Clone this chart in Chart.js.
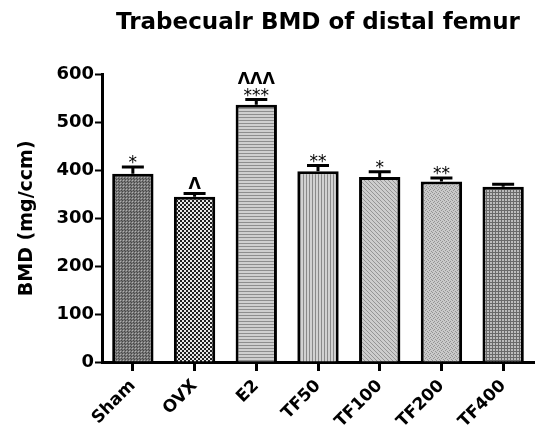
<!DOCTYPE html>
<html>
<head>
<meta charset="utf-8">
<script src="https://cdn.jsdelivr.net/npm/chart.js@4.4.1/dist/chart.umd.min.js"></script>
<style>
  html, body { margin: 0; padding: 0; background: #fff; }
  #wrap { width: 542px; height: 438px; }
</style>
</head>
<body>
<div id="wrap"><canvas id="bmdChart" width="542" height="438"></canvas></div>
<script>
// groups on the x axis
const groups = ['Sham', 'OVX', 'E2', 'TF50', 'TF100', 'TF200', 'TF400'];
// mean trabecular BMD (mg/ccm)
const bmdMean = [393, 345, 537, 398, 386, 377, 366];
// upper error (SEM)
const bmdErr = [14, 7, 11, 12, 11, 7, 5];
// significance marks above each bar
const starMarks = ['*', '', '***', '**', '*', '**', ''];
const caretMarks = ['', 'Λ', 'ΛΛΛ', '', '', '', ''];
// y axis ticks
const yTicks = [0, 100, 200, 300, 400, 500, 600];

const FONT = "'DejaVu Sans', sans-serif";

// small tiled patterns that imitate the hatch fills
function makePattern(size, draw) {
    const c = document.createElement('canvas');
    c.width = size; c.height = size;
    const g = c.getContext('2d');
    draw(g);
    return document.getElementById('bmdChart').getContext('2d').createPattern(c, 'repeat');
}

function px(g, color, list) {
    g.fillStyle = color;
    list.forEach(p => g.fillRect(p[0], p[1], 1, 1));
}

const fills = [
    // Sham: dark stipple
    makePattern(3, g => {
        g.fillStyle = '#777777'; g.fillRect(0, 0, 3, 3);
        px(g, '#b0b0b0', [[0, 0]]);
        px(g, '#474747', [[1, 1], [2, 2]]);
    }),
    // OVX: black / white checker
    makePattern(4, g => {
        g.fillStyle = '#e6e6e6'; g.fillRect(0, 0, 4, 4);
        g.fillStyle = '#1e1e1e'; g.fillRect(0, 0, 2, 2); g.fillRect(2, 2, 2, 2);
    }),
    // E2: horizontal lines
    makePattern(3, g => {
        g.fillStyle = '#cfcfcf'; g.fillRect(0, 0, 3, 3);
        g.fillStyle = '#8e8e8e'; g.fillRect(0, 0, 3, 1);
    }),
    // TF50: vertical lines
    makePattern(3, g => {
        g.fillStyle = '#d2d2d2'; g.fillRect(0, 0, 3, 3);
        g.fillStyle = '#8a8a8a'; g.fillRect(0, 0, 1, 3);
    }),
    // TF100: fine diagonal hatch
    makePattern(4, g => {
        g.fillStyle = '#cdcdcd'; g.fillRect(0, 0, 4, 4);
        px(g, '#959595', [[0, 0], [1, 1], [2, 2], [3, 3]]);
    }),
    // TF200: fine stipple
    makePattern(4, g => {
        g.fillStyle = '#c9c9c9'; g.fillRect(0, 0, 4, 4);
        px(g, '#939393', [[0, 0], [2, 1], [1, 2], [3, 3]]);
    }),
    // TF400: cross hatch grid
    makePattern(3, g => {
        g.fillStyle = '#bdbdbd'; g.fillRect(0, 0, 3, 3);
        g.fillStyle = '#6a6a6a'; g.fillRect(0, 0, 3, 1); g.fillRect(0, 0, 1, 3);
    })
];

// error bars and significance symbols
const errorBarPlugin = {
    id: 'errorBars',
    afterDatasetsDraw(chart) {
        const ctx = chart.ctx;
        const yScale = chart.scales.y;
        const meta = chart.getDatasetMeta(0);
        ctx.save();
        ctx.strokeStyle = '#000';
        ctx.fillStyle = '#000';
        ctx.lineWidth = 3;
        meta.data.forEach((bar, i) => {
            const x = bar.x;
            const top = yScale.getPixelForValue(bmdMean[i] + bmdErr[i]);
            ctx.beginPath();
            ctx.moveTo(x, bar.y);
            ctx.lineTo(x, top);
            ctx.moveTo(x - 11, top);
            ctx.lineTo(x + 11, top);
            ctx.stroke();

            ctx.textAlign = 'center';
            ctx.textBaseline = 'alphabetic';
            if (starMarks[i]) {
                ctx.font = '17px ' + FONT;
                ctx.fillText(starMarks[i], x, top + 1);
            }
            if (caretMarks[i]) {
                ctx.font = 'bold 16px ' + FONT;
                ctx.fillText(caretMarks[i], x, starMarks[i] ? top - 16 : top - 4);
            }
        });
        ctx.restore();
    }
};

new Chart(document.getElementById('bmdChart'), {
    type: 'bar',
    data: {
        labels: groups,
        datasets: [{
            data: bmdMean,
            backgroundColor: fills,
            borderColor: '#000',
            borderWidth: 3,
            borderSkipped: 'bottom',
            categoryPercentage: 1,
            barPercentage: 0.67
        }]
    },
    options: {
        responsive: false,
        animation: false,
        layout: { padding: { left: 0, right: 8, top: 0, bottom: 0 } },
        plugins: {
            legend: { display: false },
            tooltip: { enabled: false },
            title: {
                display: true,
                fullSize: false,
                text: 'Trabecualr BMD of distal femur',
                color: '#000',
                font: { family: FONT, size: 23, weight: 'bold' },
                padding: { top: 9, bottom: 38 }
            }
        },
        scales: {
            x: {
                grid: {
                    offset: false,
                    drawOnChartArea: false,
                    drawTicks: true,
                    tickLength: 9,
                    tickWidth: 3,
                    tickColor: '#000'
                },
                border: { color: '#000', width: 3 },
                ticks: {
                    color: '#000',
                    font: { family: FONT, size: 17, weight: 'bold' },
                    maxRotation: 45,
                    minRotation: 45,
                    padding: 5
                },
                afterFit(scale) { scale.height = 76; }
            },
            y: {
                min: 0,
                max: 600,
                afterBuildTicks(scale) { scale.ticks = yTicks.map(v => ({ value: v })); },
                grid: {
                    drawOnChartArea: false,
                    drawTicks: true,
                    tickLength: 7,
                    tickWidth: 2,
                    tickColor: '#000'
                },
                border: { color: '#000', width: 3 },
                ticks: {
                    color: '#000',
                    font: { family: FONT, size: 18, weight: 'bold' },
                    padding: 1
                },
                title: {
                    display: true,
                    text: 'BMD (mg/ccm)',
                    color: '#000',
                    font: { family: FONT, size: 19, weight: 'bold' },
                    padding: { top: 16, bottom: 0 }
                },
                afterFit(scale) { scale.width = 102; }
            }
        }
    },
    plugins: [errorBarPlugin]
});
</script>
</body>
</html>
